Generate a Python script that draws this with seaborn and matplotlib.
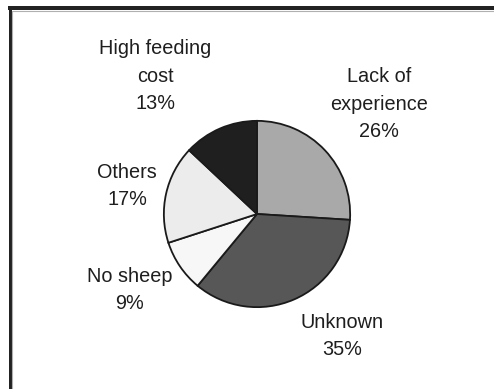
import matplotlib
matplotlib.use("Agg")
import matplotlib.pyplot as plt
import seaborn as sns
from matplotlib.lines import Line2D

# Reasons for not keeping sheep (share of respondents, %)
categories = ["Lack of\nexperience", "Unknown", "No sheep", "Others", "High feeding\ncost"]
shares = [26, 35, 9, 17, 13]
slice_colors = ["#a9a9a9", "#575757", "#f7f7f7", "#ececec", "#1f1f1f"]

sns.set_theme(style="white")
plt.rcParams["font.family"] = ["Liberation Sans", "DejaVu Sans"]

W, H = 494, 389
fig = plt.figure(figsize=(W / 100, H / 100), dpi=100)
fig.patch.set_facecolor("white")

# pie area in pixels: centre (257, 214), radius 95
cx, cy, r = 257, 214, 95
ax = fig.add_axes([(cx - r) / W, (H - cy - r) / H, 2 * r / W, 2 * r / H])
wedges, _ = ax.pie(
    shares,
    colors=slice_colors,
    startangle=90,
    counterclock=False,
    radius=1.0,
    wedgeprops=dict(edgecolor="#1a1a1a", linewidth=1.3),
)
ax.set_xlim(-1.02, 1.02)
ax.set_ylim(-1.02, 1.02)
ax.set_aspect("equal")
ax.axis("off")

# label block centres in pixels
label_pos = [(379, 104), (342, 336), (130, 290), (127, 186), (155, 76)]
for name, val, (px, py) in zip(categories, shares, label_pos):
    fig.text(px / W, 1 - py / H, f"{name}\n{val}%", ha="center", va="center",
             fontsize=14.3, color="#1e1e1e", linespacing=1.57)

# frame along the top and left edges
fig.add_artist(Line2D([8 / W, 1.01], [1 - 8 / H, 1 - 8 / H], transform=fig.transFigure,
                      color="#222222", linewidth=4 * 0.72, solid_capstyle="butt"))
fig.add_artist(Line2D([9.5 / W, 9.5 / W], [1 - 6 / H, -0.01], transform=fig.transFigure,
                      color="#222222", linewidth=3 * 0.72, solid_capstyle="butt"))
fig.add_artist(Line2D([11.5 / W, 1.01], [1 - 11 / H, 1 - 11 / H], transform=fig.transFigure,
                      color="#b0b0b0", linewidth=0.8))
fig.add_artist(Line2D([11.8 / W, 11.8 / W], [1 - 11 / H, -0.01], transform=fig.transFigure,
                      color="#b0b0b0", linewidth=0.8))

fig.savefig("out.png", dpi=100, facecolor="white")
